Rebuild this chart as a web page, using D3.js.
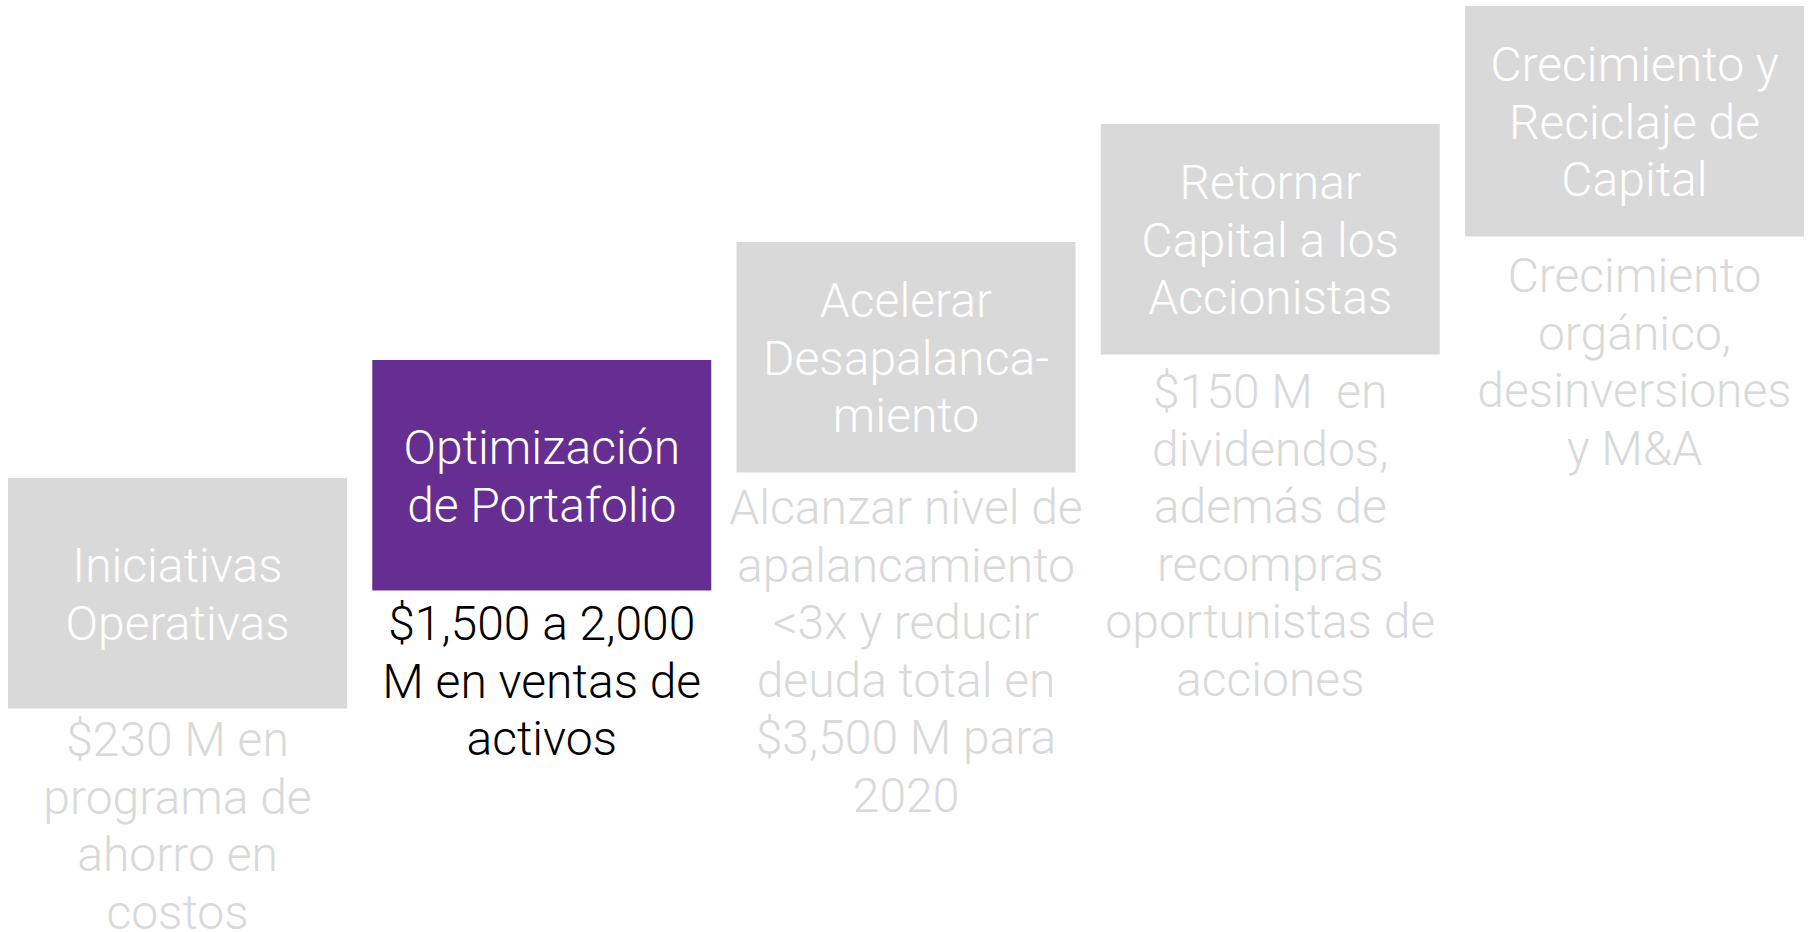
<!DOCTYPE html>
<html>
<head>
<meta charset="utf-8">
<script src="https://cdn.jsdelivr.net/npm/d3@7"></script>
<style>
    html, body { margin: 0; padding: 0; background: #fff; }
    text { font-family: Roboto, "Noto Sans", sans-serif; font-weight: 300; white-space: pre; }
</style>
</head>
<body>
<svg width="1816" height="932"></svg>
<script type="text/javascript">
    // pasos de la estrategia, de izquierda a derecha
    var steps = [
        "Iniciativas Operativas",
        "Optimización de Portafolio",
        "Acelerar Desapalancamiento",
        "Retornar Capital a los Accionistas",
        "Crecimiento y Reciclaje de Capital"
    ];
    var titleLines = [
        ["Iniciativas", "Operativas"],
        ["Optimización", "de Portafolio"],
        ["Acelerar", "Desapalanca-", "miento"],
        ["Retornar", "Capital a los", "Accionistas"],
        ["Crecimiento y", "Reciclaje de", "Capital"]
    ];
    var descLines = [
        ["$230 M en", "programa de", "ahorro en", "costos"],
        ["$1,500 a 2,000", "M en ventas de", "activos"],
        ["Alcanzar nivel de", "apalancamiento", "<3x y reducir", "deuda total en", "$3,500 M para", "2020"],
        ["$150 M  en", "dividendos,", "además de", "recompras", "oportunistas de", "acciones"],
        ["Crecimiento", "orgánico,", "desinversiones", "y M&A"]
    ];
    var highlighted = "Optimización de Portafolio";

    var svg = d3.select("svg");
    var boxH = 230.5;
    var fontSize = 48, lineH = 57.5;

    var x = d3.scaleBand()
            .domain(steps)
            .range([8, 1804])
            .paddingInner(0.0693)
            .paddingOuter(0);
    // escalera: cada paso sube respecto al anterior
    var yTop = d3.scaleLinear()
            .domain([0, steps.length - 1])
            .range([478, 6]);
    var yDesc = d3.scaleLinear()
            .domain([0, steps.length - 1])
            .range([756, 292]);

    var g = svg.selectAll("g.step")
            .data(steps)
            .enter()
            .append("g")
            .attr("class", "step");

    g.append("rect")
            .attr("x", function (d) { return x(d); })
            .attr("y", function (d, i) { return yTop(i); })
            .attr("width", x.bandwidth())
            .attr("height", boxH)
            .attr("fill", function (d) { return d === highlighted ? "#662e91" : "#d9d9d9"; });

    g.each(function (d, i) {
        var sel = d3.select(this);
        var cx = x(d) + x.bandwidth() / 2;
        var midY = yTop(i) + boxH / 2;
        var tl = titleLines[i];
        sel.selectAll("text.title")
                .data(tl)
                .enter()
                .append("text")
                .attr("class", "title")
                .attr("x", cx)
                .attr("y", function (t, j) { return midY + (j - (tl.length - 1) / 2) * lineH + 17.5; })
                .attr("text-anchor", "middle")
                .attr("font-size", fontSize)
                .attr("fill", "#ffffff")
                .text(function (t) { return t; });

        sel.selectAll("text.desc")
                .data(descLines[i])
                .enter()
                .append("text")
                .attr("class", "desc")
                .attr("x", cx)
                .attr("y", function (t, j) { return yDesc(i) + j * lineH; })
                .attr("text-anchor", "middle")
                .attr("font-size", fontSize)
                .attr("fill", d === highlighted ? "#000000" : "#d9d9d9")
                .text(function (t) { return t; });
    });
</script>
</body>
</html>
